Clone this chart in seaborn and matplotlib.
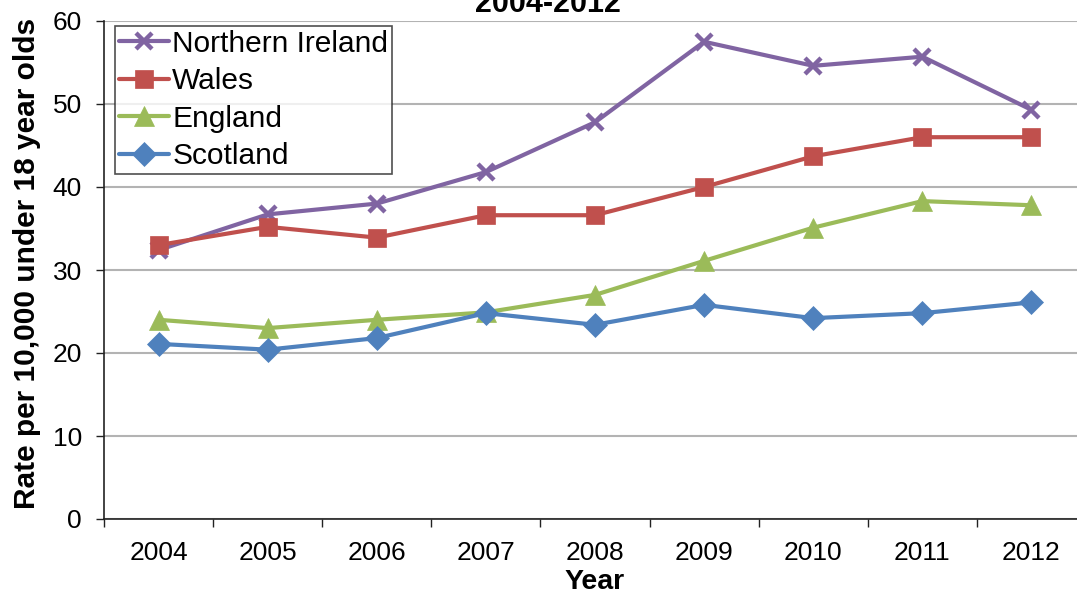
import matplotlib
matplotlib.use("Agg")
import matplotlib.pyplot as plt
import seaborn as sns
import pandas as pd
from matplotlib.ticker import FixedLocator, NullFormatter

years = ["2004", "2005", "2006", "2007", "2008", "2009", "2010", "2011", "2012"]
northern_ireland = [32.4, 36.7, 38.0, 41.8, 47.8, 57.5, 54.6, 55.7, 49.3]
wales = [33.0, 35.2, 33.9, 36.6, 36.6, 40.0, 43.7, 46.0, 46.0]
england = [24.0, 23.0, 24.0, 24.9, 27.0, 31.1, 35.1, 38.3, 37.8]
scotland = [21.1, 20.4, 21.8, 24.8, 23.4, 25.8, 24.2, 24.8, 26.1]
series_names = ["Northern Ireland", "Wales", "England", "Scotland"]
series_values = [northern_ireland, wales, england, scotland]

colors = {"Northern Ireland": "#8064A2", "Wales": "#C0504D",
          "England": "#9BBB59", "Scotland": "#4F81BD"}
markers = {"Northern Ireland": "x", "Wales": "s", "England": "^", "Scotland": "D"}
msizes = {"Northern Ireland": 12, "Wales": 13.5, "England": 14, "Scotland": 12.5}

rows = []
for name, vals in zip(series_names, series_values):
    for i, (y, v) in enumerate(zip(years, vals)):
        rows.append({"idx": i, "Year": y, "Rate": v, "Country": name})
df = pd.DataFrame(rows)

sns.set_theme(style="white")
plt.rcParams["font.family"] = ["Liberation Sans", "DejaVu Sans"]

fig = plt.figure(figsize=(10.77, 5.96), dpi=100)
ax = fig.add_axes([104/1077, 77/596, (1086-104)/1077, (519-21)/596])

for name in series_names:
    sub = df[df["Country"] == name]
    sns.lineplot(data=sub, x="idx", y="Rate", ax=ax, color=colors[name],
                 marker=markers[name], markersize=msizes[name],
                 markeredgewidth=3.2 if markers[name] == "x" else 0.5,
                 markeredgecolor=colors[name], linewidth=3, label=name,
                 clip_on=False)

ax.set_xlim(-0.5, len(years) - 0.5)
ax.set_ylim(0, 60)
ax.set_yticks(range(0, 61, 10))
ax.yaxis.grid(True, color="#b3b3b3", linewidth=1.5)
ax.set_axisbelow(True)

ax.xaxis.set_major_locator(FixedLocator([i - 0.5 for i in range(len(years) + 1)]))
ax.xaxis.set_major_formatter(NullFormatter())
ax.xaxis.set_minor_locator(FixedLocator(list(range(len(years)))))
ax.set_xticklabels(years, minor=True)
ax.tick_params(axis="x", which="major", direction="out", length=6, width=1, color="#222222", bottom=True)
ax.tick_params(axis="x", which="minor", length=0, pad=16, labelsize=19, labelcolor="black")
ax.tick_params(axis="y", direction="out", length=6, width=1, color="#222222", left=True,
               labelsize=19, pad=10, labelcolor="black")

for s in ["top", "right"]:
    ax.spines[s].set_visible(False)
for s in ["left", "bottom"]:
    ax.spines[s].set_color("#222222")
    ax.spines[s].set_linewidth(1.2)

ax.set_xlabel("Year", fontsize=20.5, fontweight="bold", labelpad=3, color="black")
ax.set_ylabel("Rate per 10,000 under 18 year olds", fontsize=21.5, fontweight="bold",
              color="black")
ax.yaxis.set_label_coords(-0.064, 0.513)

fig.text(548/1077, 1 - 12/596, "2004-2012", ha="center", va="baseline",
         fontsize=22, fontweight="bold", color="black")

leg = ax.legend(loc="upper left", bbox_to_anchor=(11/982, 0.99), fontsize=21.5,
                frameon=True, fancybox=False, edgecolor="#222222",
                handlelength=1.7, handletextpad=0.1, labelspacing=0.32,
                borderpad=0.12, borderaxespad=0)
leg.get_frame().set_linewidth(1.2)
for t in leg.get_texts():
    t.set_color("black")

fig.savefig("out.png", dpi=100)
